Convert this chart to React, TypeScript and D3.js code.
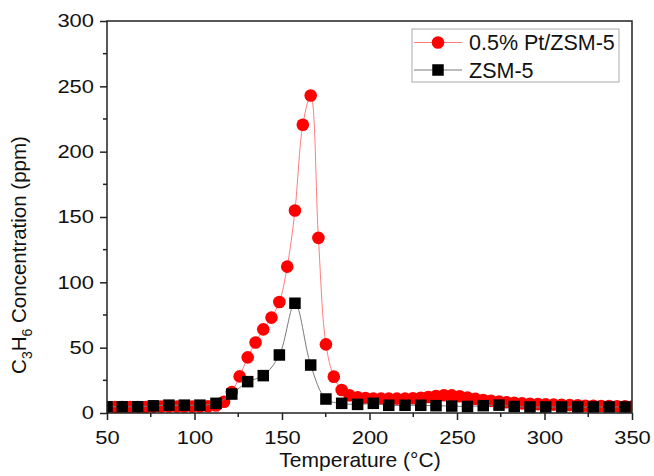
import { useEffect, useRef } from "react";
import * as d3 from "d3";

// temperatures (°C) and C3H6 readings (ppm)
const ptTemps = [
  50, 54.5, 58.7, 63, 67.5, 72, 76.5, 81, 85.4, 90, 94.2, 98.7, 103.1, 107.7,
  112.3, 116.9, 121.3, 125.8, 130.4, 134.9, 139.3, 144, 148.5, 153, 157.4,
  161.9, 166.4, 170.8, 175.1, 179.6, 184.1, 188.6, 193.2, 197.7, 202.2, 206.6,
  211, 215.6, 220.3, 224.8, 229.3, 233.6, 238, 242.5, 247, 251.5, 256, 260.5,
  265, 269.5, 274, 278.3, 282.7, 287.2, 291.7, 296.2, 300.7, 305.2, 309.8,
  314.4, 319, 323.4, 327.9, 332.4, 336.9, 341.5, 346, 350.5,
];
const ptValues = [
  4.5, 4.5, 4.5, 4.5, 4.5, 4.5, 4.8, 5, 5, 5, 5, 5, 5, 5.2, 5.8, 8.6, 16, 28,
  42.6, 54, 64, 73, 85, 112, 155, 220.6, 243, 134, 52.5, 27.8, 17.6, 13.5, 12,
  11.5, 11, 11, 11, 11, 11, 11.3, 11.7, 12.2, 13, 13.6, 13.5, 12.8, 11.8, 10.8,
  10, 9.3, 8.7, 8.2, 7.8, 7.4, 7.1, 6.8, 6.6, 6.4, 6.2, 6, 5.8, 5.6, 5.5, 5.4,
  5.3, 5.2, 5.1, 5,
];

const zsmTemps = [
  50, 58.7, 67.5, 76.5, 85.4, 94.2, 103.1, 112.3, 121.3, 130.4, 139.3, 148.5,
  157.4, 166.4, 175.1, 184.1, 193.2, 202.2, 211, 220.3, 229.3, 238, 247, 256,
  265, 274, 282.7, 291.7, 300.7, 309.8, 319, 327.9, 336.9, 346,
];
const zsmValues = [
  4.8, 4.8, 4.8, 5.5, 6, 6, 6, 7.4, 14.5, 24, 28.6, 44.4, 84, 36.7, 10.7, 7.4,
  6.6, 7.4, 5.9, 5.9, 5.9, 5.6, 5.3, 5, 5.6, 6, 5, 4.6, 4.6, 4.6, 4.6, 4.6, 4.6,
  4.6,
];

const xTicks = [50, 100, 150, 200, 250, 300, 350];
const yTicks = [0, 50, 100, 150, 200, 250, 300];
const seriesNames = ["0.5% Pt/ZSM-5", "ZSM-5"];

function App() {
  const ref = useRef<SVGSVGElement>(null);

  useEffect(() => {
    const width = 654;
    const height = 476;
    const margin = { top: 21, right: 22, bottom: 63, left: 107 };
    const font = "'Liberation Sans', Arial, sans-serif";

    const svg = d3.select(ref.current);
    svg.selectAll("*").remove();
    svg.attr("width", width).attr("height", height);

    const x = d3
      .scaleLinear()
      .domain([50, 350])
      .range([margin.left, width - margin.right]);
    const y = d3
      .scaleLinear()
      .domain([0, 300])
      .range([height - margin.bottom, margin.top]);

    svg
      .append("defs")
      .append("clipPath")
      .attr("id", "plot-clip")
      .append("rect")
      .attr("x", margin.left)
      .attr("y", margin.top)
      .attr("width", width - margin.left - margin.right)
      .attr("height", height - margin.top - margin.bottom);

    const pt = ptTemps.map((t, i) => ({ t, v: ptValues[i] }));
    const zsm = zsmTemps.map((t, i) => ({ t, v: zsmValues[i] }));

    const line = d3
      .line<{ t: number; v: number }>()
      .x((d) => x(d.t))
      .y((d) => y(d.v))
      .curve(d3.curveCatmullRom);

    const plot = svg.append("g").attr("clip-path", "url(#plot-clip)");

    plot
      .append("path")
      .datum(pt)
      .attr("fill", "none")
      .attr("stroke", "#ff7c7c")
      .attr("stroke-width", 1)
      .attr("d", line);

    plot
      .selectAll(".pt")
      .data(pt)
      .enter()
      .append("circle")
      .attr("class", "pt")
      .attr("cx", (d) => x(d.t))
      .attr("cy", (d) => y(d.v))
      .attr("r", 6.3)
      .attr("fill", "#ff0000");

    plot
      .append("path")
      .datum(zsm)
      .attr("fill", "none")
      .attr("stroke", "#7a7a7a")
      .attr("stroke-width", 1)
      .attr("d", line);

    const sq = 11.5;
    plot
      .selectAll(".zsm")
      .data(zsm)
      .enter()
      .append("rect")
      .attr("class", "zsm")
      .attr("x", (d) => x(d.t) - sq / 2)
      .attr("y", (d) => y(d.v) - sq / 2)
      .attr("width", sq)
      .attr("height", sq)
      .attr("fill", "#000");

    // frame
    svg
      .append("rect")
      .attr("x", margin.left)
      .attr("y", margin.top)
      .attr("width", width - margin.left - margin.right)
      .attr("height", height - margin.top - margin.bottom)
      .attr("fill", "none")
      .attr("stroke", "#222")
      .attr("stroke-width", 1.5);

    // x axis
    const xAxis = svg
      .append("g")
      .attr("transform", `translate(0,${height - margin.bottom})`);
    xAxis
      .call(
        d3
          .axisBottom(x)
          .tickValues(xTicks)
          .tickSize(7)
          .tickPadding(11)
          .tickFormat(d3.format("d"))
      )
      .call((g) => g.select(".domain").remove());
    xAxis
      .selectAll(".minor")
      .data(xTicks.slice(0, -1).map((d) => d + 25))
      .enter()
      .append("line")
      .attr("class", "minor")
      .attr("x1", (d) => x(d))
      .attr("x2", (d) => x(d))
      .attr("y1", 0)
      .attr("y2", 4);

    // y axis
    const yAxis = svg.append("g").attr("transform", `translate(${margin.left},0)`);
    yAxis
      .call(
        d3
          .axisLeft(y)
          .tickValues(yTicks)
          .tickSize(7)
          .tickPadding(6)
          .tickFormat(d3.format("d"))
      )
      .call((g) => g.select(".domain").remove());
    yAxis
      .selectAll(".minor")
      .data(yTicks.slice(0, -1).map((d) => d + 25))
      .enter()
      .append("line")
      .attr("class", "minor")
      .attr("x1", 0)
      .attr("x2", -4)
      .attr("y1", (d) => y(d))
      .attr("y2", (d) => y(d));

    svg
      .selectAll(".tick line, .minor")
      .attr("stroke", "#222")
      .attr("stroke-width", 1.5);
    // tick numbers in the original are a bit wider than they are tall
    svg
      .selectAll<SVGTextElement, unknown>(".tick text")
      .attr("font-family", font)
      .attr("font-size", 18.6)
      .attr("fill", "#111")
      .each(function () {
        const w = this.getComputedTextLength();
        d3.select(this)
          .attr("textLength", w * 1.18)
          .attr("lengthAdjust", "spacingAndGlyphs");
      });

    // axis titles
    svg
      .append("text")
      .attr("x", 360)
      .attr("y", 467)
      .attr("text-anchor", "middle")
      .attr("font-family", font)
      .attr("font-size", 21)
      .attr("fill", "#111")
      .text("Temperature (°C)");

    const yTitle = svg
      .append("text")
      .attr("transform", "translate(26,255) rotate(-90)")
      .attr("text-anchor", "middle")
      .attr("font-family", font)
      .attr("font-size", 20.5)
      .attr("fill", "#111");
    yTitle.append("tspan").text("C");
    yTitle.append("tspan").attr("font-size", 14).attr("dy", 6).text("3");
    yTitle.append("tspan").attr("dy", -6).text("H");
    yTitle.append("tspan").attr("font-size", 14).attr("dy", 6).text("6");
    yTitle.append("tspan").attr("dy", -6).text("  Concentration (ppm)");

    // legend
    const legend = svg.append("g");
    legend
      .append("rect")
      .attr("x", 412)
      .attr("y", 29)
      .attr("width", 207)
      .attr("height", 53)
      .attr("fill", "#fff")
      .attr("stroke", "#aaa")
      .attr("stroke-width", 1);

    seriesNames.forEach((name, i) => {
      const cy = 42.5 + i * 27.5;
      legend
        .append("line")
        .attr("x1", 414)
        .attr("x2", 462)
        .attr("y1", cy)
        .attr("y2", cy)
        .attr("stroke", i === 0 ? "#ff7c7c" : "#7a7a7a")
        .attr("stroke-width", 1);
      if (i === 0) {
        legend
          .append("circle")
          .attr("cx", 438)
          .attr("cy", cy)
          .attr("r", 6.3)
          .attr("fill", "#ff0000");
      } else {
        legend
          .append("rect")
          .attr("x", 438 - sq / 2)
          .attr("y", cy - sq / 2)
          .attr("width", sq)
          .attr("height", sq)
          .attr("fill", "#000");
      }
      legend
        .append("text")
        .attr("x", 469)
        .attr("y", cy)
        .attr("dy", "0.36em")
        .attr("font-family", font)
        .attr("font-size", 21.5)
        .attr("fill", "#111")
        .text(name);
    });
  }, []);

  return (
    <svg
      ref={ref}
      style={{ position: "absolute", left: 0, top: 0, background: "#fff" }}
    ></svg>
  );
}

export default App;
